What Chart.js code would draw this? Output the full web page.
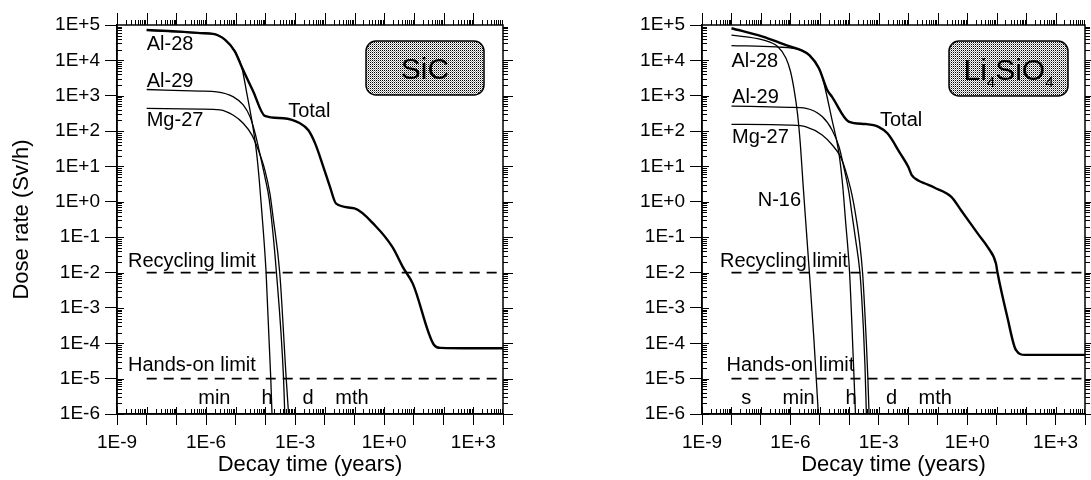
<!DOCTYPE html>
<html>
<head>
<meta charset="utf-8">
<script src="https://cdn.jsdelivr.net/npm/chart.js@4.4.1/dist/chart.umd.min.js"></script>
<style>
  html, body { margin: 0; padding: 0; background: #fff; overflow: hidden; }
  #wrap { position: relative; width: 1091px; height: 480px; }
  #sic { position: absolute; left: 0; top: 0; }
  #li { position: absolute; left: 585px; top: 0; }
</style>
</head>
<body>
<div id="wrap">
  <canvas id="sic" width="545" height="480"></canvas>
  <canvas id="li" width="506" height="480"></canvas>
</div>
<script>
// 軸の目盛 (10のべき乗ごと)
const xDecades = [1e-9, 1e-8, 1e-7, 1e-6, 1e-5, 1e-4, 1e-3, 1e-2, 1e-1, 1e0, 1e1, 1e2, 1e3, 1e4];
const xTickLabels = ['1E-9', '', '', '1E-6', '', '', '1E-3', '', '', '1E+0', '', '', '1E+3', ''];
const yDecades = [1e-6, 1e-5, 1e-4, 1e-3, 1e-2, 1e-1, 1e0, 1e1, 1e2, 1e3, 1e4, 1e5];
const yTickLabels = ['1E-6', '1E-5', '1E-4', '1E-3', '1E-2', '1E-1', '1E+0', '1E+1', '1E+2', '1E+3', '1E+4', '1E+5'];

// 基準値 (Sv/h)
const recyclingLimit = 1e-2;
const handsOnLimit = 1e-5;
const limitSpan = [1e-8, 1e4];

// 時間単位 (年)
const timeUnits = ['s', 'min', 'h', 'd', 'mth'];
const unitTimes = [3.17e-8, 1.9e-6, 1.14e-4, 2.74e-3, 8.2e-2];

// --- SiC ---
const sicTotalTime = [1e-8, 1e-7, 6.3e-7, 1.74e-6, 4.4e-6, 9.3e-6, 1.58e-5, 3.9e-5, 9.5e-5, 4.0e-4, 1.45e-3, 2.75e-3, 4.7e-3, 8.9e-3, 1.48e-2, 2.4e-2, 0.1, 0.5, 1.9, 4.3, 9.3, 47, 79, 1000, 1e4];
const sicTotalDose = [7.2e4, 6.6e4, 5.9e4, 5.6e4, 3.8e4, 1.8e4, 6.6e3, 1.3e3, 270, 230, 166, 107, 45, 9.8, 2.7, 0.89, 0.65, 0.21, 0.052, 0.014, 4.7e-3, 9.1e-5, 7.4e-5, 7.2e-5, 7.2e-5];
const sicAl28Time = [1e-8, 6.3e-7, 1.74e-6, 4.4e-6, 9.3e-6, 1.58e-5, 2.34e-5, 3.47e-5, 5.0e-5, 6.2e-5, 7.4e-5, 1.05e-4, 1.51e-4, 1.66e-4];
const sicAl28Dose = [7.2e4, 5.9e4, 5.6e4, 3.8e4, 1.8e4, 6.6e3, 1.2e3, 200, 25, 4, 0.63, 1e-2, 1e-5, 1e-6];
const sicAl29Time = [1e-8, 6.3e-7, 2.3e-6, 8.3e-6, 1.78e-5, 3.0e-5, 4.47e-5, 6.46e-5, 9.55e-5, 1.35e-4, 2.34e-4, 4.07e-4, 4.47e-4];
const sicAl29Dose = [1.5e3, 1.35e3, 1.29e3, 930, 550, 257, 87, 23, 5.1, 1.1, 1e-2, 1e-5, 1e-6];
const sicMg27Time = [1e-8, 6.3e-7, 2.95e-6, 8.3e-6, 1.78e-5, 3.47e-5, 5.75e-5, 9.55e-5, 1.41e-4, 1.82e-4, 3.02e-4, 5.0e-4, 6.0e-4];
const sicMg27Dose = [440, 420, 400, 280, 166, 78, 29, 7.9, 1.74, 0.35, 1e-2, 1e-5, 1e-6];

// --- Li4SiO4 ---
const liTotalTime = [1e-8, 1.15e-7, 7.1e-7, 2.3e-6, 4.4e-6, 9.3e-6, 1.78e-5, 2.6e-5, 9.5e-5, 3.5e-4, 9.8e-4, 2.0e-3, 5.4e-3, 1.0e-2, 1.3e-2, 2.2e-2, 3.7e-2, 7.9e-2, 0.29, 0.62, 2.3, 5.0, 9.5, 10.7, 23, 45, 93, 1000, 1e4];
const liTotalDose = [8.1e4, 4.7e4, 2.7e4, 1.95e4, 1.4e4, 6.0e3, 1.45e3, 930, 186, 158, 132, 85, 23, 9.8, 5.8, 4.0, 3.3, 2.5, 1.38, 0.58, 0.126, 0.052, 0.018, 0.01, 5.6e-4, 6.5e-5, 4.7e-5, 4.7e-5, 4.7e-5];
const liN16Time = [1e-8, 1.15e-7, 3.7e-7, 7.1e-7, 1e-6, 1.32e-6, 1.74e-6, 2.19e-6, 2.69e-6, 3.55e-6, 4.68e-6, 6.3e-6, 8.9e-6];
const liN16Dose = [5.2e4, 3.8e4, 2.45e4, 1.15e4, 5.0e3, 1.58e3, 316, 40, 3.16, 0.126, 5e-3, 1.26e-4, 1e-6];
const liAl28Time = [1e-8, 3.2e-7, 2.3e-6, 4.4e-6, 9.3e-6, 1.2e-5, 2.6e-5, 4.47e-5, 6.0e-5, 7.4e-5, 1.02e-4, 1.45e-4, 1.62e-4];
const liAl28Dose = [2.6e4, 2.4e4, 1.95e4, 1.4e4, 6.0e3, 3.5e3, 204, 23, 2.7, 0.31, 1e-2, 1e-5, 1e-6];
const liAl29Time = [1e-8, 9.1e-7, 3.4e-6, 1.2e-5, 2.6e-5, 4.47e-5, 6.46e-5, 9.55e-5, 1.23e-4, 1.66e-4, 2.29e-4, 2.63e-4, 3.02e-4, 3.39e-4, 3.8e-4];
const liAl29Dose = [510, 470, 440, 257, 107, 36, 9.8, 2.0, 0.45, 0.079, 1e-2, 2e-3, 2.5e-4, 2.5e-5, 1e-6];
const liMg27Time = [1e-8, 9.1e-7, 3.4e-6, 1.2e-5, 2.6e-5, 5.0e-5, 7.4e-5, 1.12e-4, 1.41e-4, 1.78e-4, 2.24e-4, 2.82e-4, 3.31e-4, 3.8e-4, 4.27e-4, 4.68e-4];
const liMg27Dose = [155, 148, 132, 78, 41, 19, 7.9, 2.24, 0.89, 0.28, 0.071, 1e-2, 1e-3, 1e-4, 1e-5, 1e-6];

const FONT = '"Liberation Sans", Arial, Helvetica, sans-serif';

function pts(t, d) {
    return t.map((x, i) => ({ x: x, y: d[i] }));
}

function curve(t, d, width) {
    return {
        data: pts(t, d),
        borderColor: '#000',
        borderWidth: width,
        pointRadius: 0,
        fill: false,
        cubicInterpolationMode: 'monotone'
    };
}

function limitLine(v) {
    return {
        data: limitSpan.map(x => ({ x: x, y: v })),
        borderColor: '#000',
        borderWidth: 1.8,
        borderDash: [10, 7],
        pointRadius: 0,
        fill: false
    };
}

// 枠線・補助目盛・ラベル類を描くプラグイン
const panelDecor = {
    id: 'panelDecor',
    afterDatasetsDraw(chart, args, opts) {
        const ctx = chart.ctx;
        const a = chart.chartArea;
        const xs = chart.scales.x;
        const ys = chart.scales.y;
        ctx.save();

        const seg = (x1, y1, x2, y2) => {
            ctx.beginPath();
            ctx.moveTo(x1, y1);
            ctx.lineTo(x2, y2);
            ctx.stroke();
        };

        // 目盛 (補助目盛は2〜9)
        ctx.strokeStyle = '#000';
        ctx.lineWidth = 1;
        for (let i = 0; i < xDecades.length - 1; i++) {
            for (let m = 1; m <= 9; m++) {
                const px = Math.round(xs.getPixelForValue(m * xDecades[i])) + 0.5;
                const major = m === 1;
                seg(px, a.bottom, px, a.bottom - (major ? 7 : 5));
                seg(px, a.top, px, a.top - (major ? 12 : 5));
            }
        }
        for (let i = 0; i < yDecades.length - 1; i++) {
            for (let m = 1; m <= 9; m++) {
                const py = Math.round(ys.getPixelForValue(m * yDecades[i])) + 0.5;
                const major = m === 1;
                seg(a.left, py, a.left + (major ? 7 : 5), py);
                seg(a.right, py, a.right + (major ? 10 : 5), py);
            }
        }

        // 枠
        ctx.lineWidth = 1.5;
        ctx.strokeRect(a.left, a.top, a.right - a.left, a.bottom - a.top);

        // 曲線・基準線のラベル
        ctx.fillStyle = '#000';
        ctx.font = '20px ' + FONT;
        ctx.textBaseline = 'middle';
        ctx.textAlign = 'left';
        opts.labels.forEach(l => {
            ctx.fillText(l.text, xs.getPixelForValue(l.x), ys.getPixelForValue(l.y));
        });

        // 時間単位
        ctx.textAlign = 'center';
        opts.units.forEach(u => {
            const i = timeUnits.indexOf(u);
            ctx.fillText(u, xs.getPixelForValue(unitTimes[i]), a.bottom - 16);
        });

        // 材料名の枠 (網点塗り)
        const b = opts.box;
        const bx = a.left + b.left, by = a.top + b.top;
        const pat = document.createElement('canvas');
        pat.width = 2; pat.height = 2;
        const pc = pat.getContext('2d');
        pc.fillStyle = '#fff';
        pc.fillRect(0, 0, 2, 2);
        pc.fillStyle = '#000';
        pc.fillRect(0, 0, 1, 1);
        pc.fillStyle = '#999';
        pc.fillRect(1, 1, 1, 1);
        ctx.beginPath();
        ctx.roundRect(bx, by, b.width, b.height, 10);
        ctx.fillStyle = ctx.createPattern(pat, 'repeat');
        ctx.fill();
        ctx.lineWidth = 1.5;
        ctx.strokeStyle = '#000';
        ctx.stroke();

        // 下付き文字を含む名前
        ctx.fillStyle = '#000';
        ctx.textAlign = 'left';
        ctx.textBaseline = 'alphabetic';
        const big = '30px ' + FONT, small = '15px ' + FONT;
        let total = 0;
        b.parts.forEach(p => {
            ctx.font = p.sub ? small : big;
            total += ctx.measureText(p.t).width;
        });
        let cx = bx + (b.width - total) / 2;
        const base = by + b.height / 2 + 11;
        b.parts.forEach(p => {
            ctx.font = p.sub ? small : big;
            ctx.fillText(p.t, cx, p.sub ? base + 7 : base);
            cx += ctx.measureText(p.t).width;
        });
        ctx.restore();
    }
};

function makeChart(id, datasets, decor, yTitle) {
    const canvas = document.getElementById(id);
    return new Chart(canvas.getContext('2d'), {
        type: 'line',
        data: { datasets: datasets },
        options: {
            responsive: false,
            animation: false,
            layout: { padding: { left: 0, top: 25, right: canvas.width - 503, bottom: 0 } },
            plugins: {
                legend: { display: false },
                tooltip: { enabled: false },
                panelDecor: decor
            },
            scales: {
                x: {
                    type: 'logarithmic',
                    min: 1e-9,
                    max: 1e4,
                    afterBuildTicks: s => { s.ticks = xDecades.map(v => ({ value: v })); },
                    afterFit: s => { s.height = 66; },
                    ticks: {
                        autoSkip: false,
                        maxRotation: 0,
                        padding: 6,
                        color: '#000',
                        font: { family: FONT, size: 19 },
                        callback: (v, i) => xTickLabels[i]
                    },
                    grid: { drawOnChartArea: false, tickLength: 11, color: '#000', lineWidth: 1 },
                    border: { color: '#000', width: 1.5 },
                    title: {
                        display: true,
                        text: 'Decay time (years)',
                        color: '#000',
                        font: { family: FONT, size: 22 },
                        padding: { top: 0, bottom: 2 }
                    }
                },
                y: {
                    type: 'logarithmic',
                    min: 1e-6,
                    max: 1e5,
                    afterBuildTicks: s => { s.ticks = yDecades.map(v => ({ value: v })); },
                    afterFit: s => { s.width = 117; },
                    ticks: {
                        autoSkip: false,
                        padding: 5,
                        color: '#000',
                        font: { family: FONT, size: 19 },
                        callback: (v, i) => yTickLabels[i]
                    },
                    grid: { drawOnChartArea: false, tickLength: 12, color: '#000', lineWidth: 1 },
                    border: { color: '#000', width: 1.5 },
                    title: {
                        display: !!yTitle,
                        text: yTitle || '',
                        color: '#000',
                        font: { family: FONT, size: 22 },
                        padding: { top: 9, bottom: 0 }
                    }
                }
            }
        },
        plugins: [panelDecor]
    });
}

makeChart('sic', [
    curve(sicTotalTime, sicTotalDose, 2.4),
    curve(sicAl28Time, sicAl28Dose, 1.3),
    curve(sicAl29Time, sicAl29Dose, 1.3),
    curve(sicMg27Time, sicMg27Dose, 1.3),
    limitLine(recyclingLimit),
    limitLine(handsOnLimit)
], {
    labels: [
        { text: 'Al-28', x: 1e-8, y: 2.9e4 },
        { text: 'Al-29', x: 1e-8, y: 2.6e3 },
        { text: 'Mg-27', x: 1e-8, y: 2.0e2 },
        { text: 'Total', x: 5.8e-4, y: 3.7e2 },
        { text: 'Recycling limit', x: 2.35e-9, y: 2e-2 },
        { text: 'Hands-on limit', x: 2.35e-9, y: 2.3e-5 }
    ],
    units: ['min', 'h', 'd', 'mth'],
    box: { left: 249, top: 16, width: 118, height: 54, parts: [{ t: 'SiC' }] }
}, 'Dose rate (Sv/h)');

makeChart('li', [
    curve(liTotalTime, liTotalDose, 2.4),
    curve(liN16Time, liN16Dose, 1.3),
    curve(liAl28Time, liAl28Dose, 1.3),
    curve(liAl29Time, liAl29Dose, 1.3),
    curve(liMg27Time, liMg27Dose, 1.3),
    limitLine(recyclingLimit),
    limitLine(handsOnLimit)
], {
    labels: [
        { text: 'Al-28', x: 1e-8, y: 9.6e3 },
        { text: 'Al-29', x: 1.05e-8, y: 9.1e2 },
        { text: 'Mg-27', x: 1.05e-8, y: 68 },
        { text: 'Total', x: 1.1e-3, y: 2.0e2 },
        { text: 'N-16', x: 7.8e-8, y: 1.1 },
        { text: 'Recycling limit', x: 4.1e-9, y: 2e-2 },
        { text: 'Hands-on limit', x: 6.8e-9, y: 2.3e-5 }
    ],
    units: ['s', 'min', 'h', 'd', 'mth'],
    box: { left: 247, top: 16, width: 119, height: 55, parts: [{ t: 'Li' }, { t: '4', sub: true }, { t: 'SiO' }, { t: '4', sub: true }] }
}, null);
</script>
</body>
</html>
